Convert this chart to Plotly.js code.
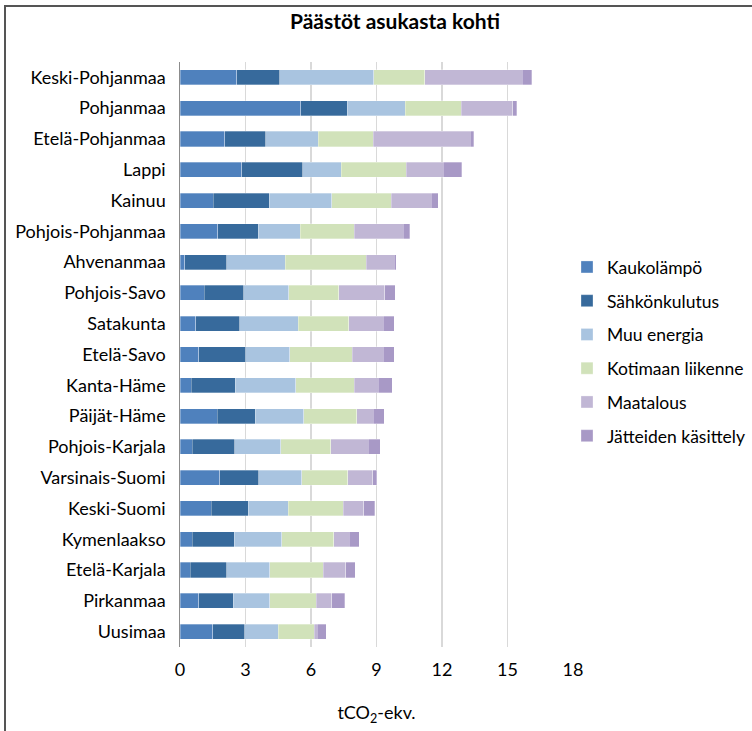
<!DOCTYPE html>
<html>
<head>
<meta charset="utf-8">
<script src="https://cdn.plot.ly/plotly-3.0.1.min.js"></script>
<style>
  html, body { margin: 0; padding: 0; background: #fff; }
  #chart { width: 752px; height: 731px; position: absolute; left: 0; top: 0; }
  #frame { position: absolute; left: 4px; top: 5px; width: 760px; height: 740px;
           border-left: 2px solid #555; border-top: 2px solid #555; pointer-events: none; }
</style>
</head>
<body>
<div id="chart"></div>
<div id="frame"></div>
<script>
const regions = ["Keski-Pohjanmaa","Pohjanmaa","Etelä-Pohjanmaa","Lappi","Kainuu","Pohjois-Pohjanmaa",
  "Ahvenanmaa","Pohjois-Savo","Satakunta","Etelä-Savo","Kanta-Häme","Päijät-Häme","Pohjois-Karjala",
  "Varsinais-Suomi","Keski-Suomi","Kymenlaakso","Etelä-Karjala","Pirkanmaa","Uusimaa"];

const kaukolampo   = [2.59,5.53,2.04,2.82,1.52,1.74,0.21,1.10,0.72,0.87,0.52,1.71,0.55,1.83,1.43,0.55,0.46,0.87,1.51];
const sahkonkulutus= [1.98,2.13,1.89,2.81,2.56,1.85,1.94,1.82,2.02,2.15,2.02,1.73,1.96,1.78,1.69,1.93,1.67,1.57,1.46];
const muuEnergia   = [4.31,2.66,2.40,1.76,2.86,1.92,2.68,2.07,2.67,2.01,2.76,2.22,2.10,1.96,1.83,2.18,1.98,1.67,1.54];
const liikenne     = [2.33,2.56,2.52,2.98,2.73,2.48,3.71,2.27,2.31,2.87,2.69,2.44,2.30,2.12,2.53,2.38,2.44,2.12,1.63];
const maatalous    = [4.47,2.35,4.44,1.69,1.84,2.24,1.28,2.11,1.58,1.42,1.10,0.75,1.72,1.14,0.93,0.71,1.03,0.73,0.15];
const jatteet      = [0.42,0.20,0.17,0.84,0.32,0.29,0.09,0.50,0.51,0.49,0.63,0.50,0.55,0.17,0.50,0.46,0.45,0.58,0.40];

const seriesNames = ["Kaukolämpö","Sähkönkulutus","Muu energia","Kotimaan liikenne","Maatalous","Jätteiden käsittely"];
const seriesData = [kaukolampo, sahkonkulutus, muuEnergia, liikenne, maatalous, jatteet];
const colors = ["#4F81BD","#376A9C","#A9C4E0","#D1E2BA","#C1B7D5","#A899C6"];
const xTicks = [0,3,6,9,12,15,18];

const FONT = "Lato, 'Liberation Sans', sans-serif";

const traces = seriesNames.map((name, i) => ({
  type: "bar",
  orientation: "h",
  name: name,
  x: seriesData[i],
  y: regions,
  legendgroup: "g" + i,
  marker: { color: colors[i], line: { color: "rgba(255,255,255,0.5)", width: 0.6 } },
  hoverinfo: "x+y+name"
}));

const PAPER_W = 752 - 180;

const layout = {
  width: 752, height: 731,
  paper_bgcolor: "#ffffff", plot_bgcolor: "#ffffff",
  margin: { l: 180, r: 0, t: 62, b: 84 },
  barmode: "stack",
  bargap: 0.51,
  font: { family: FONT, size: 18, color: "#000" },
  title: { text: "<b>Päästöt asukasta kohti</b>", x: 395/752, xanchor: "center", y: 1 - 22/731, yanchor: "middle",
           xref: "container", yref: "container",
           font: { family: FONT, size: 21, color: "#000" } },
  xaxis: {
    domain: [0, 393 / PAPER_W],
    range: [0, 18], tickvals: xTicks, ticktext: xTicks.map(String),
    showgrid: true, gridcolor: "#D9D9D9", gridwidth: 1.5,
    zeroline: false, showline: false, ticks: "",
    ticklabelstandoff: 10,
    tickfont: { family: FONT, size: 18, color: "#000" },
    title: { text: "tCO<sub>2</sub>-ekv.", font: { family: FONT, size: 18, color: "#000" }, standoff: 27 },
    fixedrange: true
  },
  yaxis: {
    type: "category", categoryorder: "array", categoryarray: regions, autorange: "reversed",
    showline: true, linecolor: "#8C8C8C", linewidth: 1.5, ticks: "",
    showgrid: false, zeroline: false,
    ticksuffix: "  ",
    tickfont: { family: FONT, size: 18, color: "#000" },
    fixedrange: true
  },
  legend: {
    xref: "paper", yref: "paper",
    x: (567 - 180) / PAPER_W, xanchor: "left", y: 0.505, yanchor: "middle",
    traceorder: "grouped", tracegroupgap: 8,
    font: { family: FONT, size: 17.5, color: "#000" },
    bgcolor: "rgba(0,0,0,0)", itemwidth: 30
  },
  showlegend: true
};

Plotly.newPlot("chart", traces, layout, { displayModeBar: false, staticPlot: true });
</script>
</body>
</html>
